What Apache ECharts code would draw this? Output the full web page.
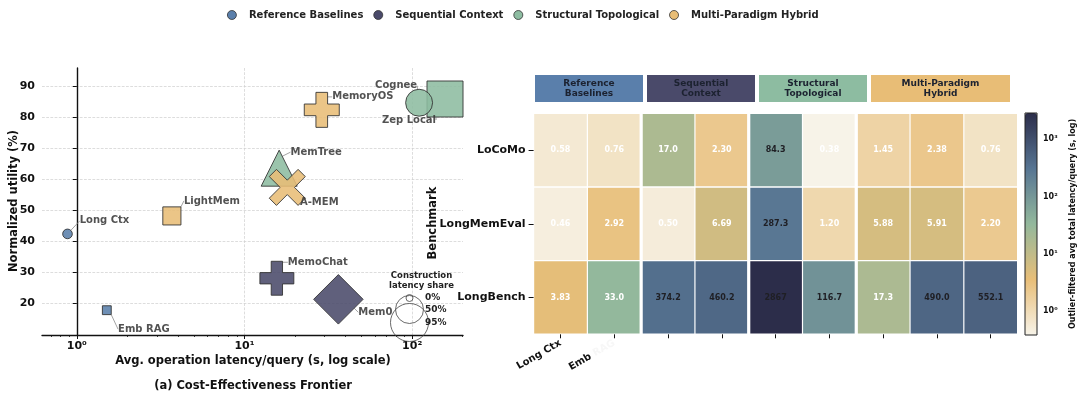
<!DOCTYPE html>
<html><head><meta charset="utf-8">
<script src="https://cdn.jsdelivr.net/npm/echarts@6/dist/echarts.min.js"></script>
<style>html,body{margin:0;padding:0;background:#fff}#c{width:1080px;height:401px}</style>
</head><body><div id="c"></div>
<script>
// ================= DATA =================
const groups = ['Reference Baselines', 'Sequential Context', 'Structural Topological', 'Multi-Paradigm Hybrid'];
// scatter (a)
const methods = ['Long Ctx', 'Emb RAG', 'LightMem', 'MemoryOS', 'Zep Local', 'Cognee', 'MemTree', 'A-MEM', 'MemoChat', 'Mem0'];
const methodGroup = [0, 0, 3, 3, 2, 2, 2, 3, 1, 1];
const opLatency = [0.88, 1.51, 3.69, 28.9, 157, 110, 16.1, 18.0, 15.6, 36.3];
const utility = [42.3, 17.7, 48.1, 82.3, 85.8, 84.6, 63.5, 57.3, 28.0, 21.2];
const constructionShare = [3, 2, 19, 80, 85, 46, 85, 85, 75, 80];
const xTickExp = [0, 1, 2];
const yTicks = [20, 30, 40, 50, 60, 70, 80, 90];
const shareLegend = [0, 50, 95];
// heatmap (b)
const benchmarks = ['LoCoMo', 'LongMemEval', 'LongBench'];
const heatMethods = ['Long Ctx', 'Emb RAG', 'MemoChat', 'Mem0', 'Zep Local', 'MemTree', 'MemoryOS', 'A-MEM', 'LightMem'];
const heatGroupSize = [2, 2, 2, 3];
const latLoCoMo = [0.58, 0.76, 17.0, 2.30, 84.3, 0.38, 1.45, 2.38, 0.76];
const latLongMemEval = [0.46, 2.92, 0.50, 6.69, 287.3, 1.20, 5.88, 5.91, 2.20];
const latLongBench = [3.83, 33.0, 374.2, 460.2, 2867, 116.7, 17.3, 490.0, 552.1];
const cbTickExp = [0, 1, 2, 3];
const cbMin = 0.38, cbMax = 2867;

// ================= STYLE =================
const FONT = 'DejaVu Sans';
const groupColors = ['#5a7fab', '#4a4a6a', '#8dbca1', '#e8bd76'];
const symbolFor = {
  'Long Ctx': 'circle', 'Emb RAG': 'rect', 'LightMem': 'rect', 'Zep Local': 'rect', 'Cognee': 'circle',
  'MemTree': 'triangle', 'Mem0': 'diamond',
  'MemoryOS': 'path://M1,0H2V1H3V2H2V3H1V2H0V1H1Z', 'MemoChat': 'path://M1,0H2V1H3V2H2V3H1V2H0V1H1Z',
  'A-MEM': 'path://M0,2L2,0L5,3L8,0L10,2L7,5L10,8L8,10L5,7L2,10L0,8L3,5Z'
};
const shapeScale = { 'diamond': Math.SQRT2 };
const labelOffset = {
  'Long Ctx': [37, -13], 'Emb RAG': [37, 19], 'LightMem': [40, -15], 'MemoryOS': [41, -13],
  'Cognee': [-23, -17], 'Zep Local': [-36, 21], 'MemTree': [37, -16], 'A-MEM': [32, 15],
  'MemoChat': [41, -16], 'Mem0': [37, 13]
};
const sizeFromShare = s => Math.sqrt(49 + 14.7 * s);
const sup = { '0': '⁰', '1': '¹', '2': '²', '3': '³' };
const expLabel = v => '10' + sup[String(Math.round(v))];

// scatter layout
const G0 = { left: 42, top: 68, width: 421, height: 267 };
const xMinLog = Math.log10(0.62), xMaxLog = Math.log10(201);
const minorTicks = [];
for (let k = -1; k <= 2; k++) for (let m = 2; m <= 9; m++) {
  const v = Math.log10(m * Math.pow(10, k));
  if (v > xMinLog && v < xMaxLog) minorTicks.push(v);
}
// heatmap layout
const G1 = { left: 533.6, top: 113.3, width: 484, height: 221 };
const G2 = { left: 1025, top: 113, width: 12, height: 222 };

// scatter series
const seriesNames = [];
const scatterSeries = groups.map((g, gi) => {
  const idx = methods.map((m, i) => i).filter(i => methodGroup[i] === gi);
  seriesNames.push(idx.map(i => methods[i]));
  return {
    name: g, type: 'scatter', xAxisIndex: 0, yAxisIndex: 0,
    itemStyle: { color: groupColors[gi], opacity: 0.88, borderColor: '#333', borderWidth: 1 },
    emphasis: { disabled: true },
    label: { show: true, position: 'inside', formatter: '{b}', color: '#3a3a3a', fontFamily: FONT, fontWeight: 'bold', fontSize: 10 },
    labelLine: { show: true, lineStyle: { color: '#8c8c8c', width: 0.8 } },
    labelLayout: p => { const o = labelOffset[seriesNames[p.seriesIndex][p.dataIndex]]; return { dx: o[0], dy: o[1] }; },
    data: idx.map(i => {
      const sym = symbolFor[methods[i]];
      return {
        name: methods[i],
        value: [Math.log10(opLatency[i]), utility[i]],
        symbol: sym,
        symbolSize: sizeFromShare(constructionShare[i]) * (shapeScale[sym] || 1)
      };
    })
  };
});

// heatmap data
const heatRows = [latLoCoMo, latLongMemEval, latLongBench];
const heatData = [];
heatRows.forEach((row, r) => row.forEach((v, c) => heatData.push([c, r, Math.log10(v), v])));
const groupStarts = [], groupEnds = [];
{ let s = 0; heatGroupSize.forEach(n => { groupStarts.push(s); groupEnds.push(s + n - 1); s += n; }); }
const fmtVal = v => v >= 1000 ? v.toFixed(0) : (v >= 10 ? v.toFixed(1) : v.toFixed(2));

const heatSeries = {
  type: 'custom', coordinateSystem: 'cartesian2d', xAxisIndex: 2, yAxisIndex: 1,
  encode: { x: 0, y: 1 },
  data: heatData,
  renderItem: (params, api) => {
    const ci = api.value(0), ri = api.value(1), raw = api.value(3);
    const c = api.coord([ci, ri]);
    const s = api.size([1, 1]);
    const gl = (groupStarts.includes(ci) && ci > 0) ? 1.6 : 0.6;
    const gr = (groupEnds.includes(ci) && ci < heatMethods.length - 1) ? 1.6 : 0.6;
    const x0 = c[0] - s[0] / 2 + gl, x1 = c[0] + s[0] / 2 - gr;
    const y0 = c[1] - s[1] / 2 + 0.7, y1 = c[1] + s[1] / 2 - 0.7;
    return {
      type: 'group', children: [
        { type: 'rect', shape: { x: x0, y: y0, width: x1 - x0, height: y1 - y0 }, style: { fill: api.visual('color') } },
        { type: 'text', style: { text: fmtVal(raw), x: c[0], y: c[1], align: 'center', verticalAlign: 'middle',
          fill: raw >= 50 ? '#1f1f24' : '#ffffff', font: 'bold 8px "DejaVu Sans"' } }
      ]
    };
  }
};

// graphics
const graphics = [];
const txt = (text, x, y, size, opts = {}) => graphics.push(Object.assign({
  type: 'text', x, y, rotation: opts.rot || 0, z: 100,
  style: { text, align: opts.align || 'center', verticalAlign: 'middle', fill: opts.fill || '#111',
    font: `bold ${size}px "DejaVu Sans"`, lineHeight: opts.lh }
}));
txt('Normalized utility (%)', 14, 201, 11.5, { rot: Math.PI / 2 });
txt('Avg. operation latency/query (s, log scale)', 253, 361, 11.5);
txt('(a) Cost-Effectiveness Frontier', 253, 386.5, 11.5);
txt('Benchmark', 433, 223, 11.5, { rot: Math.PI / 2 });
txt('Outlier-filtered avg total latency/query (s, log)', 1073, 224, 8, { rot: Math.PI / 2 });
// size legend
txt('Construction\nlatency share', 421.5, 281, 8.5, { lh: 10, fill: '#222' });
const shareLegY = [298, 309.5, 322.5];
shareLegend.forEach((s, i) => {
  const d = sizeFromShare(s);
  graphics.push({ type: 'circle', z: 90, shape: { cx: 409.5, cy: shareLegY[i], r: d / 2 }, style: { fill: 'none', stroke: '#444', lineWidth: 0.8 } });
  txt(s + '%', 425, shareLegY[i], 9, { align: 'left', fill: '#222' });
});
// group headers
groups.forEach((g, gi) => {
  const x = 535 + gi * 112, w = gi < 3 ? 108 : 139;
  graphics.push({ type: 'rect', z: 50, shape: { x, y: 75, width: w, height: 27 }, style: { fill: groupColors[gi] } });
  const words = g.split(' ');
  const t = words.length === 2 ? words.join('\n') : g;
  txt(t, x + w / 2, 88.5, 9, { lh: 10.5, fill: '#1c2230' });
});
// colorbar border
graphics.push({ type: 'rect', z: 120, shape: { x: G2.left, y: G2.top, width: G2.width, height: G2.height }, style: { fill: 'none', stroke: '#222', lineWidth: 1 } });

const axisLabelBold = (size) => ({ fontFamily: FONT, fontWeight: 'bold', fontSize: size, color: '#111' });

const option = {
  backgroundColor: '#fff',
  animation: false,
  textStyle: { fontFamily: FONT },
  legend: {
    data: groups, left: 227, top: 10, itemWidth: 24, itemHeight: 9, itemGap: 10, icon: 'circle', padding: 0,
    textStyle: { fontFamily: FONT, fontWeight: 'bold', fontSize: 10, color: '#222' },
    itemStyle: { borderColor: '#333', borderWidth: 0.8, opacity: 1 }
  },
  grid: [
    Object.assign({ containLabel: false }, G0),
    Object.assign({ containLabel: false }, G1),
    Object.assign({ containLabel: false }, G2)
  ],
  xAxis: [
    { type: 'value', gridIndex: 0, min: xMinLog, max: xMaxLog,
      axisLine: { show: true, lineStyle: { color: '#111', width: 1.4 } },
      axisTick: { show: true, customValues: xTickExp, length: 4, lineStyle: { color: '#111' } },
      axisLabel: Object.assign({ customValues: xTickExp, formatter: v => expLabel(v), margin: 6 }, axisLabelBold(11)),
      splitLine: { show: true, lineStyle: { color: '#cfcfcf', type: 'dashed', width: 0.7 } } },
    { type: 'value', gridIndex: 0, min: xMinLog, max: xMaxLog, position: 'bottom', offset: 0,
      axisLine: { show: false }, axisLabel: { show: false }, splitLine: { show: false },
      axisTick: { show: true, customValues: minorTicks, length: 2, lineStyle: { color: '#111', width: 0.8 } } },
    { type: 'category', gridIndex: 1, data: heatMethods,
      axisLine: { show: false },
      axisTick: { show: true, alignWithLabel: true, length: 4, lineStyle: { color: '#111' } },
      axisLabel: Object.assign({
        rotate: 30, margin: 8, interval: 0,
        formatter: (v, i) => i === 0 ? v : (i === 1 ? '{a|Emb}{b| RAG}' : ''),
        rich: { a: axisLabelBold(10), b: Object.assign(axisLabelBold(10), { color: '#f7f7f7' }) }
      }, axisLabelBold(10)),
      splitLine: { show: false } },
    { type: 'value', gridIndex: 2, show: false, min: 0, max: 1 }
  ],
  yAxis: [
    { type: 'value', gridIndex: 0, min: 9.7, max: 95.8,
      axisLine: { show: true, lineStyle: { color: '#111', width: 1.4 } },
      axisTick: { show: true, customValues: yTicks, length: 4, lineStyle: { color: '#111' } },
      axisLabel: Object.assign({ customValues: yTicks, margin: 7 }, axisLabelBold(11)),
      splitLine: { show: true, lineStyle: { color: '#cfcfcf', type: 'dashed', width: 0.7 } } },
    { type: 'category', gridIndex: 1, data: benchmarks, inverse: true,
      axisLine: { show: false },
      axisTick: { show: true, alignWithLabel: true, length: 5, lineStyle: { color: '#111' } },
      axisLabel: Object.assign({ margin: 8 }, axisLabelBold(11)),
      splitLine: { show: false } },
    { type: 'value', gridIndex: 2, position: 'right', min: Math.log10(cbMin), max: Math.log10(cbMax),
      axisLine: { show: false },
      axisTick: { show: true, customValues: cbTickExp, length: 3, lineStyle: { color: '#111' } },
      axisLabel: Object.assign({ customValues: cbTickExp, formatter: v => expLabel(v), margin: 6 }, axisLabelBold(8)),
      splitLine: { show: false } }
  ],
  visualMap: {
    type: 'continuous', seriesIndex: 4, dimension: 2,
    min: Math.log10(cbMin), max: Math.log10(cbMax),
    calculable: false, show: true, text: null, padding: 0, orient: 'vertical',
    left: G2.left, top: G2.top, itemWidth: G2.width, itemHeight: G2.height, hoverLink: false,
    inRange: { color: ['#f7f3e8', '#e8be78', '#93b89c', '#577593', '#2c2d4a'] }
  },
  series: scatterSeries.concat([heatSeries]),
  graphic: graphics
};
const chart = echarts.init(document.getElementById('c'), null, { renderer: 'canvas', width: 1080, height: 401 });
chart.setOption(option);
</script>
</body></html>
